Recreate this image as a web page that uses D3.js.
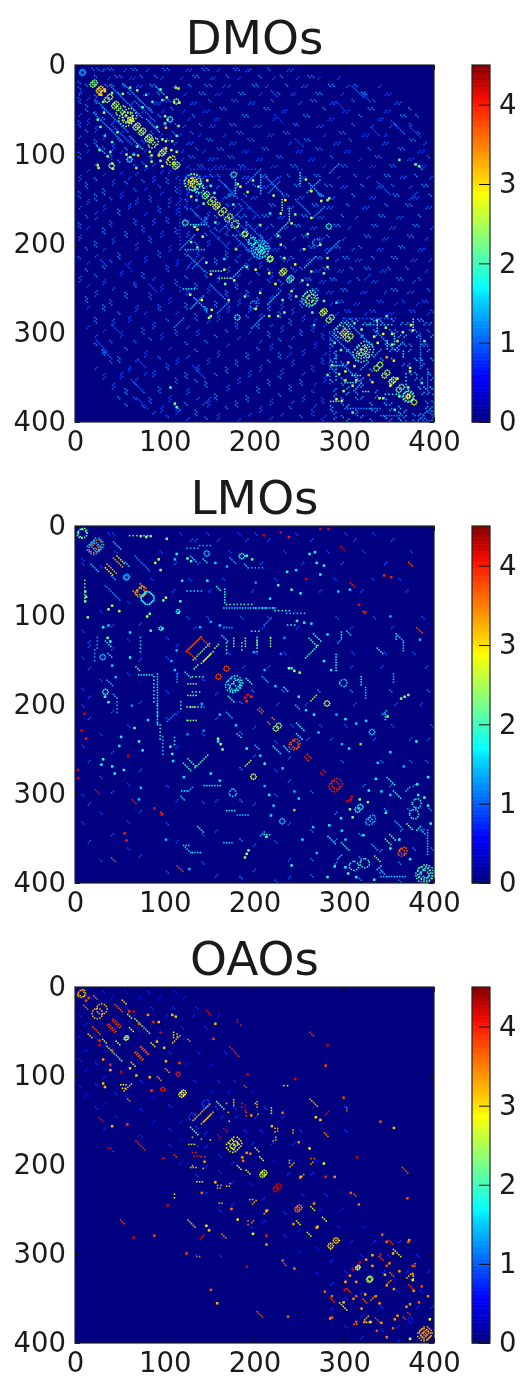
<!DOCTYPE html>
<html><head><meta charset="utf-8">
<script src="https://cdn.jsdelivr.net/npm/d3@7"></script>
<style>html,body{margin:0;padding:0;background:#fff;overflow:hidden}svg{display:block}text{font-family:"DejaVu Sans",sans-serif;fill:#1a1a1a}</style>
</head><body><div id="c"></div><script>
// every list holds the upper triangle of a symmetric matrix
const titles=["DMOs","LMOs","OAOs"];
const axisTicks=[0,100,200,300,400];
const barTicks=[0,1,2,3,4];
const vmax=4.5;
const jetStops=[0,.11,.125,.35,.375,.64,.66,.89,.91,1];
const jetColors=["#000080","#0000f1","#0000ff","#00dcff","#00ffff","#ffff00","#ffe600","#ff1a00","#f10800","#800000"];

// diagonal beads and clusters [cx,cy,r,v]
const dmoRings=[[8,7,3,1.3],[21,19,3,2.3],[28,26,3,3],[38,35,3,2.6],[45,43,3,2.5],[52,49,4,2.4],[60,56,8,2.4],[60,56,4,2.6],[62,60,2,2.8],[69,67,3,2.6],[75,73,3,2.5],[82,80,3,2.5],[88,85,4,2.5],[98,96,3,2.6],[107,105,4,2.7],[113,111,3,2.4],[131,130,9,2.2],[131,130,5,3],[131,130,2,2.6],[138,137,5,2],[146,144,3,2.2],[153,150,3,2.5],[158,156,3,2.7],[165,162,3,2.6],[172,169,3,2.6],[178,177,4,2.4],[189,188,3,2.5],[197,196,4,1.8],[207,205,9,1.6],[207,205,5,1.8],[207,205,2,1.8],[217,216,3,2.4],[232,230,3,2.6],[240,238,3,2],[262,260,8,2],[262,260,4,2.4],[262,260,1,2.2],[277,275,3,2.6],[285,282,3,2.4],[298,295,7,2],[300,298,3,3],[306,303,3,2.5],[323,318,9,2.1],[323,318,5,2.4],[323,318,2,2.4],[339,335,3,2.5],[347,344,3,2.5],[354,352,3,2.5],[363,360,3,2.2],[371,370,6,2.1],[371,370,2,2.8],[377,377,3,2.6],[394,392,6,1.2],[112,40,3,2.4],[105,60,3,1.8],[176,122,3,2.1],[282,180,3,1.8],[268,198,4,1.4]];
const dmoDiag=[[38,22,26,1.3],[53,20,33,1.3],[66,40,24,1.1],[46,62,14,1.3],[90,24,10,1.5],[79,60,16,1.5],[160,128,22,1.2],[185,150,22,1],[212,125,20,1.3],[260,132,16,1.5],[245,150,18,1.2],[170,165,24,1],[176,190,24,1.2],[302,286,30,1.4],[335,298,22,1.4],[308,23,14,1],[318,30,12,1],[372,68,14,.9],[290,40,10,.9],[218,28,8,1],[336,130,16,1],[222,55,10,.8],[245,82,10,.9],[330,70,10,.9],[352,62,14,1],[380,110,8,1.4]];
const dmoAnti=[[190,132,18,1.3],[215,142,14,1.2],[258,142,16,1.5],[283,120,12,1.3],[224,188,16,1.6],[265,170,14,1.3],[280,210,16,1.4],[255,226,14,1.6],[332,326,10,1.4],[356,318,10,1.5],[160,186,12,1],[125,225,10,1],[150,118,8,.9],[168,148,10,1.2],[120,180,8,1],[372,150,10,1],[322,240,8,.9]];
const dmoHoriz=[[128,116,74,.9],[300,283,60,1],[175,190,24,1.3],[150,104,12,1.1],[248,116,8,1],[320,290,34,1.6],[345,368,16,1.8]];
const dmoVert=[[124,122,40,.7],[298,283,25,1],[178,128,18,1.7],[206,122,24,1.5],[230,150,14,2.2],[238,160,14,2.2],[250,120,14,1.7],[336,288,12,1.8],[355,300,14,1.8],[376,284,14,2.2],[384,300,40,1.2],[392,340,26,1.2],[365,320,8,2],[347,308,10,2]];
const dmoBright=[[111,24,2.6],[114,25,2.4],[109,40,2.5],[115,41,2.4],[101,35,2.5],[99,56,2.4],[102,60,2.5],[114,67,2.5],[112,78,2.1],[94,26,2.1],[96,38,2],[100,69,3.2],[112,96,2.6],[106,94,2.4],[96,82,2.4],[107,84,2.3],[68,27,2.2],[78,32,2],[60,24,2.1],[52,31,2.5],[74,46,2.1],[85,40,2],[100,92,3],[68,90,2.2],[84,100,2.5],[64,99,2],[30,40,2.2],[26,32,3.2],[32,28,3.1],[180,132,2.5],[183,135,2.8],[197,128,2.2],[220,145,2.4],[228,165,2.6],[233,150,2.9],[240,176,2.6],[244,166,2.2],[256,127,2.6],[262,140,2.8],[273,151,2.6],[280,150,2.4],[258,188,2.2],[262,170,2.5],[272,200,2.5],[254,205,2.6],[244,222,2.8],[232,215,2.7],[262,230,2.2],[252,240,2.4],[276,232,2.2],[258,245,2.1],[191,141,2.6],[203,135,2.1],[154,142,2],[146,128,2.7],[205,178,2.7],[175,155,1.9],[228,200,2.5],[225,190,2.2],[216,165,1.6],[150,134,1.8],[280,215,2.5],[280,225,2.4],[346,280,2.1],[352,300,2.6],[373,290,2.7],[375,296,2.6],[335,285,2.2],[346,326,3.3],[352,312,2.6],[354,330,3],[336,310,2.6],[345,293,2.4],[372,342,2.4],[342,300,2.8],[332,303,2.7],[358,308,2.5],[370,360,2.4],[358,350,2.8],[388,308,2.1],[385,355,1.8],[372,338,2.6],[364,298,2.5],[318,295,2.2],[310,288,2],[378,110,2.2],[382,112,2.1],[360,105,2],[282,148,2.4],[276,263,2],[290,265,1.6]];
// faint clumps: each row [row,v,columns...]; even rows run down-right, odd rows up-right
const dmoSpeck=[
[3,1.1,18,24,36,40,62,66,97,102,141,146,176,180,214],
[6,1,29,31,54,79,123,127,158,190,193,236,240],
[11,1.2,21,44,49,72,88,131,135,168,204,228,259,263],
[15,.9,36,60,64,95,117,150,153,181,220,246,270,292],
[21,1.2,33,40,52,83,87,126,144,149,197,201,234,282,286,311],
[24,1,68,72,109,164,170,212,252,256,302,338],
[30,1.2,47,58,63,91,138,142,182,186,225,268,272,319,322],
[33,.9,76,80,121,156,160,205,240,243,296,345,349],
[38,1.1,54,70,99,103,148,174,178,218,262,266,308,331],
[43,1,62,88,92,128,132,193,197,249,284,288,356,360],
[47,1.2,82,106,161,165,210,214,276,326,330,371],
[52,.9,74,96,119,142,146,230,233,298,302,344,348],
[55,1.2,92,130,186,190,254,258,316,362,366,379],
[61,.9,82,104,125,155,158,220,281,285,337,340],
[65,1.1,98,111,138,172,176,243,246,308,355,372],
[69,1,88,120,149,153,199,204,269,273,329,350],
[74,1.1,84,108,128,180,184,232,236,294,298,364,381],
[79,.9,94,115,137,165,214,218,276,320,324,344],
[82,1.1,102,146,150,192,196,255,259,305,372,376],
[88,1,110,124,128,172,176,238,288,292,342,346,388],
[92,1.1,98,134,158,162,208,212,268,272,326,360,364],
[97,.9,112,118,142,186,190,246,250,300,304,382,386],
[101,1.1,126,130,170,174,224,228,284,334,338,392],
[106,.9,118,148,152,202,206,260,264,316,370,374],
[111,1.1,136,140,182,186,240,244,296,300,350,354],
[114,.9,124,160,164,218,222,276,328,332,384,388],
[122,1.2,150,158,172,206,211,236,266,270,310,344,348,378],
[126,1,136,142,186,190,226,250,254,292,325,362,366,395],
[133,1.2,166,178,198,244,248,278,283,318,352,386,390],
[137,1,144,157,208,212,262,296,300,336,340,372],
[144,1.2,170,174,188,230,235,270,274,308,354,358,394],
[149,1,164,196,200,248,252,286,328,332,376,380],
[155,1.2,168,182,216,220,264,268,302,345,368,372],
[160,1,176,192,236,240,280,284,320,324,390,394],
[167,1.2,180,188,208,212,252,256,296,338,342,382],
[171,1,184,198,226,230,270,274,312,358,362],
[178,1.2,192,204,218,244,248,288,292,330,334,376,380],
[183,1,200,212,234,262,266,304,350,354,396],
[190,1.2,206,222,226,252,256,280,322,326,370,374],
[195,1,204,216,242,270,274,298,342,346,390],
[202,1.2,214,232,260,264,288,292,316,360,364],
[207,1,220,224,250,278,282,308,336,340,382,386],
[214,1.2,228,240,268,272,298,302,330,352,356],
[219,1,232,236,258,290,312,316,374,378,394],
[226,1.2,240,250,276,280,306,348,322,326,368],
[231,1,244,266,270,292,296,340,344,390],
[238,1.2,256,260,284,288,314,358,362,382],
[243,1,250,272,276,304,330,334,376],
[250,1.2,264,268,296,300,352,356,392],
[255,1,280,284,318,322,344,370,374],
[263,1,292,296,336,340,364,386,390],
[268,.9,284,310,314,356,380],
[274,1,300,304,328,332,372,376,396],
[279,.9,290,322,348,352,392],
[284,1.4,306,312,330,338,352,381,385],
[290,1.3,320,326,340,362,368,388,394],
[296,1.3,332,350,356,372,378,392],
[304,1.4,318,333,360,366,380,396],
[312,1.3,345,366,372,386,390],
[320,1.4,350,358,371,392],
[328,1.4,340,352,378,384,396],
[336,1.3,364,370,386],
[344,1.4,372,378,393],
[352,1.3,378,384,396],
[360,1.5,368,382,388,395],
[368,1.4,386,392,398],
[376,1.3,390,397],
[384,1.4,390,395]
];

const lmoRings=[[8,7,5,2.2],[24,20,5,3.6],[24,20,7,1.5],[57,56,3,1.4],[74,72,5,3.3],[80,80,7,1.7],[114,95,2,1.8],[146,30,3,1.5],[168,159,3,3.8],[178,175,8,1.7],[180,175,4,1.9],[226,223,3,2.4],[245,243,5,3.7],[291,288,6,4],[317,314,3,1.8],[330,327,4,1.5],[380,310,5,1.8],[298,175,4,1.6],[330,230,3,1.5],[280,198,3,2.7],[390,388,9,2.1],[390,388,5,1.9],[390,388,1,4.2],[365,363,4,3.7],[377,322,5,1.9],[185,33,3,1.8]];
const lmoDiag=[[42,35,12,3.3],[46,33,10,2.9],[42,17,10,1.5],[66,33,17,1.2],[72,64,5,3.3],[260,125,10,2],[265,120,9,1.8],[157,67,6,1.9],[172,35,8,1.4],[188,42,6,1.5],[139,124,12,3.8],[163,122,8,1.6],[205,203,6,3.7],[219,214,4,3.5],[258,255,6,3.9],[276,273,4,4],[295,22,6,4.1],[371,40,6,3.7],[306,63,5,4],[380,113,8,3.8],[336,136,8,1.8],[354,296,10,1.8],[347,281,10,1.7],[369,333,8,2.2],[320,95,4,3.7],[232,180,6,1.8],[245,200,6,1.5],[357,120,10,1.5],[345,350,8,2.1],[302,117,6,1.5],[128,33,7,1.6],[142,36,5,1.6],[40,55,6,1.5],[208,168,8,1.4],[190,170,8,1.8],[246,220,10,1.7],[246,232,8,1.8],[356,330,8,1.4],[385,340,6,1.5]];
const lmoAnti=[[124,139,18,3.8],[131,149,9,2.3],[143,150,12,2.7],[155,136,5,2.3],[256,147,16,2],[262,195,8,2.5],[210,110,10,1.2],[292,130,6,1.4],[342,210,6,1.5],[368,296,6,1.5],[380,340,6,1.7]];
const lmoHoriz=[[168,87,32,1.9],[200,91,22,1.8],[222,94,20,1.9],[124,24,14,1.4],[138,21,15,1.4],[124,72,18,1.6],[196,46,16,1.4],[235,97,22,1.5],[60,10,24,2.2],[130,168,14,2.1],[130,185,12,2],[128,202,16,2.1],[124,217,8,1.9],[196,117,10,1.8],[236,110,12,1.7]];
const lmoVert=[[176,125,10,2.3],[189,125,10,2.4],[202,124,12,2.3],[217,125,12,2.4],[290,143,19,1.7],[318,168,12,1.7],[323,180,14,1.5],[357,120,8,1.6],[365,130,10,1.6],[354,165,10,1.5],[91,165,60,1.6],[166,70,16,1.8],[113,165,12,1.4],[296,118,8,1.7],[392,340,30,1.5],[345,210,8,1.8]];
const lmoBright=[[72,10,2.2],[78,11,2.3],[83,10,2.1],[101,13,2.3],[92,36,2.4],[94,48,2.4],[100,79,2.5],[116,83,2],[114,96,1.8],[88,40,2.5],[97,82,2],[209,9,4.2],[228,6,4.2],[237,11,4],[272,2,4.2],[281,2,4.2],[256,58,4.2],[343,54,4],[351,56,4],[315,87,4.1],[322,95,4.1],[191,188,4.1],[195,190,3.9],[302,307,4.2],[306,305,4.2],[245,48,1.6],[235,50,1.7],[225,65,2],[240,70,1.9],[250,74,1.8],[260,30,1.9],[266,28,1.7],[268,40,1.8],[276,43,1.7],[272,53,1.8],[237,158,2.4],[243,161,2.5],[249,163,2.3],[366,190,2.4],[370,188,2.3],[362,192,2.3],[305,316,2.3],[308,325,2.3],[347,212,2.2],[323,217,1.6],[379,240,1.8],[317,243,3.3],[388,303,2],[392,312,1.8],[381,300,1.7],[372,372,1.7],[360,350,1.8],[305,70,1.5],[292,72,1.5],[350,100,1.4],[383,126,1.4],[196,36,2],[190,32,1.9],[112,30,1.7],[124,35,2.1],[128,38,1.9],[146,60,1.7],[155,40,1.5],[118,60,1.6],[110,36,1.5],[168,44,1.4],[200,62,1.2],[216,80,1.6],[246,105,1.9],[254,107,1.9],[262,108,1.6],[232,124,1.2],[228,142,1.2],[240,158,1.7],[276,150,1.7],[284,160,1.6],[248,190,1.9],[256,205,1.6],[265,210,1.9],[270,230,1.5],[296,243,1.4],[304,248,1.6],[336,264,1.5],[350,252,1.6],[365,268,1.4],[380,288,1.8],[340,296,1.6],[326,295,1.7],[345,320,1.8],[350,300,1.5],[392,280,1.8],[395,332,1.9],[300,215,1.7],[312,220,1.5],[290,210,1.4],[210,160,1.4],[222,178,1.5],[198,140,1.4],[150,106,1.3],[160,110,1.5],[138,112,1.4],[282,334,1.7],[280,120,1.6]];
const lmoSpeck=[
[7,.9,36,41,116,146,181,200,245,300,331],[16,1,128,133,158,190,214,262,310,352],[27,.9,44,94,171,232,280,320,373],[42,1,110,136,206,252,296,344],[58,.9,84,126,164,222,288,330,360],[73,1,108,148,196,272,318,368],[101,1,124,146,184,214,290,332,386],[114,.9,132,164,208,246,306,352],[141,1,170,200,232,308,344,376],[158,1,186,214,306,340,390],[183,1.2,196,230,270,306,350,392],[200,1,224,256,310,356,384],[222,1,240,272,300,352,396],[239,1,258,284,332,372,392],[262,1.1,296,340,372,390],[291,1.2,320,350,376],[316,1.3,344,370,394],[341,1.3,362,386],[360,1.2,376,396]
];

const oaoRings=[[7,6,4,3.2],[29,24,6,3.2],[57,56,2,2.5],[114,97,2,4],[210,208,3,2.7],[226,223,3,4.2],[249,247,3,3.6],[178,175,7,2.9],[178,175,3,2.7],[315,314,2,2.7],[328,327,3,2.5],[390,388,7,3.2],[390,388,3,3.4],[120,118,3,2.9],[290,284,3,3],[145,130,4,.9],[373,373,3,.7]];
const oaoDiag=[[42,35,10,3.9],[41,37,9,3.8],[44,19,9,3.7],[66,35,17,2.4],[73,66,10,3.7],[72,67,9,3.8],[100,91,5,3.4],[146,26,6,4.1],[172,67,12,4],[261,50,6,3.9],[364,202,7,3.7],[261,125,10,3.2],[277,163,5,3.4],[165,158,5,4.2],[157,128,10,2.2],[349,284,6,3.9],[354,294,10,2.9],[371,334,6,3.9],[365,370,4,3.8],[20,9,6,3.6],[30,58,6,2.7],[350,320,6,3.6],[310,232,4,3.7],[188,110,4,3.8],[205,190,6,2.9],[200,180,5,3],[262,246,5,2.8],[275,258,5,2.8],[338,302,5,3.8],[60,45,6,2.7],[84,62,5,2.7],[52,14,5,3],[125,58,4,3.4]];
const oaoAnti=[[131,149,9,3.2],[143,150,12,3.2],[278,143,6,4.1],[250,214,5,3.3],[347,333,5,3.4],[239,201,5,3.2],[369,326,5,3.2],[262,198,4,3.4],[108,62,6,3],[112,58,5,3.2]];
const oaoHoriz=[[262,192,8,3.5],[290,284,6,3.2],[232,110,8,2.8],[130,168,4,3.2],[140,170,4,3.2],[150,171,3,3],[130,185,6,4],[140,190,6,3.8],[130,200,4,3.2],[142,203,3,3.2],[158,222,6,3.2],[172,220,4,3.4]];
const oaoVert=[[180,36,4,4.1],[184,42,3,4],[176,126,8,3.1],[189,132,8,4.1],[202,128,8,3.2],[218,135,7,2.6],[302,135,6,3.6],[225,158,5,3.4],[223,168,5,3.2],[109,50,9,2.8],[113,52,6,3],[378,310,5,3.5],[376,321,8,2.9],[242,160,5,3.2],[238,194,5,3.2]];
const oaoBright=[[14,11,3.8],[64,26,4.2],[59,26,3.9],[92,38,3.2],[94,50,4.2],[107,30,3.2],[111,32,3.2],[115,84,3.8],[98,67,3.2],[100,82,3.2],[191,97,4.2],[244,102,4.2],[280,64,4.2],[278,87,3.8],[298,123,3.8],[339,150,3.7],[354,157,3.2],[313,190,4.2],[306,230,3.7],[315,243,3.6],[369,236,3.7],[267,145,3],[272,148,3.1],[260,180,3],[276,197,2.7],[278,212,4],[250,212,3.2],[194,186,3.6],[185,190,3.4],[265,242,3.4],[269,268,3.2],[371,283,3.4],[341,277,3.7],[339,299,4.2],[349,309,3.5],[323,305,3.4],[330,300,3.2],[346,334,3.5],[354,338,3.4],[346,312,3.8],[375,312,3.8],[375,321,3.5],[375,328,3],[353,298,3.2],[370,285,3.7],[346,285,3.6],[368,358,3.4],[330,312,3.4],[316,308,4.2],[155,40,3.2],[153,57,3.8],[90,60,3.2],[86,38,4],[80,30,3.4],[70,40,3.8],[218,155,3.2],[230,140,3.6],[195,143,3.4],[248,173,3.5],[288,212,3.4],[344,322,3.2],[360,318,3.4],[385,335,3.8],[392,346,3.5],[382,353,3.7],[394,372,2.8],[355,372,3.4],[340,376,3.4]];
const oaoSpeck=[
[4,.7,30,55,80,110],[12,.7,40,70,92,120],[22,.8,56,84,108,134],[33,.7,64,100,130,158],[44,.8,76,118,144],[58,.7,90,120,150],[72,.8,104,136,166],[88,.7,122,150],[104,.8,132,158,176],[118,.7,150,170,196],[134,.9,142,156,176,210,300],[146,.8,162,178,200,230],[160,.8,188,206,250,300],[176,.8,196,218,242],[194,.7,220,240,268],[210,.8,236,262],[232,.8,252,278],[250,.7,272,296],[268,.7,292,320],[286,.8,306,332,360],[300,.8,318,348,380],[320,.8,342,368,392],[340,.8,358,384],[360,.8,380,396]
];

const panels=[
 {rings:dmoRings,diag:dmoDiag,anti:dmoAnti,horiz:dmoHoriz,vert:dmoVert,bright:dmoBright,speck:dmoSpeck,top:65,bottom:422,tx:37},
 {rings:lmoRings,diag:lmoDiag,anti:lmoAnti,horiz:lmoHoriz,vert:lmoVert,bright:lmoBright,speck:lmoSpeck,top:526,bottom:883,tx:497},
 {rings:oaoRings,diag:oaoDiag,anti:oaoAnti,horiz:oaoHoriz,vert:oaoVert,bright:oaoBright,speck:oaoSpeck,top:987,bottom:1343,tx:958}
];

const color=d3.scaleLinear().domain(jetStops.map(d=>d*vmax)).range(jetColors).interpolate(d3.interpolateRgb).clamp(true);
const svg=d3.select("#c").append("svg").attr("width",524).attr("height",1383);
const defs=svg.append("defs");
defs.append("filter").attr("id","soft").attr("filterUnits","userSpaceOnUse").attr("x",0).attr("y",0).attr("width",524).attr("height",1383)
  .attr("color-interpolation-filters","sRGB").append("feGaussianBlur").attr("stdDeviation",.62);
defs.append("filter").attr("id","softText").attr("filterUnits","userSpaceOnUse").attr("x",0).attr("y",0).attr("width",524).attr("height",1383)
  .attr("color-interpolation-filters","sRGB").append("feGaussianBlur").attr("stdDeviation",.3);
const left=75,right=434,barL=472,barR=490;

function cellsOf(p){
  const m=new Map();
  const put=(x,y,v)=>{x=Math.round(x);y=Math.round(y);if(x<0||y<0||x>=400||y>=400)return;
    for(const [a,b] of [[x,y],[y,x]]){const k=a+","+b;if(!m.has(k)||m.get(k).v<v)m.set(k,{x:a,y:b,v});}};
  p.rings.forEach(([cx,cy,r,v])=>{const n=r<1.5?1:Math.round(r*1.5+3);for(let i=0;i<n;i++){const a=i/n*2*Math.PI;put(cx+r*Math.cos(a),cy+r*Math.sin(a),v);}});
  p.diag.forEach(([x,y,l,v])=>{for(let i=0;i<l;i+=2)put(x+i,y+i,v);});
  p.anti.forEach(([x,y,l,v])=>{for(let i=0;i<l;i+=2)put(x+i,y-i,v);});
  p.horiz.forEach(([x,y,l,v])=>{for(let i=0;i<l;i+=4)put(x+i,y,v);});
  p.vert.forEach(([x,y,l,v])=>{for(let i=0;i<l;i+=3)put(x,y+i,v);});
  p.bright.forEach(([x,y,v])=>{put(x,y,v);put(x+1,y,v);put(x,y+1,v);put(x+1,y+1,v);});
  p.speck.forEach(([y,v,...xs],r)=>{const d=r%2?-1:1;xs.forEach(x=>{put(x,y,v);put(x+2,y+2*d,v);});});
  return [...m.values()];
}

panels.forEach((p,i)=>{
  const x=d3.scaleLinear().domain([0,400]).range([left,right]);
  const y=d3.scaleLinear().domain([0,400]).range([p.top,p.bottom]);
  const g=svg.append("g").attr("filter","url(#softText)");
  const clipId="clip"+i;
  defs.append("clipPath").attr("id",clipId).append("rect").attr("x",left).attr("y",p.top).attr("width",right-left).attr("height",p.bottom-p.top);
  const heat=g.append("g").attr("clip-path",`url(#${clipId})`).append("g").attr("filter","url(#soft)");
  heat.append("rect").attr("x",left-4).attr("y",p.top-4).attr("width",right-left+8).attr("height",p.bottom-p.top+8).attr("fill",color(0));
  const s=1.7*(right-left)/400;
  heat.selectAll("rect.c").data(cellsOf(p)).join("rect").attr("class","c")
    .attr("x",d=>x(d.x)).attr("y",d=>y(d.y)).attr("width",s).attr("height",s).attr("fill",d=>color(d.v));
  const style=a=>{a.selectAll("path").remove();a.selectAll("line").attr("stroke","#111").attr("stroke-width",1);a.selectAll("text").attr("font-size",27.5).attr("fill","#1a1a1a");};
  g.append("g").attr("transform",`translate(0,${p.bottom})`).call(d3.axisBottom(x).tickValues(axisTicks).tickFormat(d3.format("d")).tickSize(-5).tickPadding(9)).call(style);
  g.append("g").attr("transform",`translate(0,${p.top})`).call(d3.axisTop(x).tickValues(axisTicks).tickFormat("").tickSize(-5)).call(style);
  g.append("g").attr("transform",`translate(${left},0)`).call(d3.axisLeft(y).tickValues(axisTicks).tickFormat(d3.format("d")).tickSize(-5).tickPadding(9)).call(style);
  g.append("g").attr("transform",`translate(${right},0)`).call(d3.axisRight(y).tickValues(axisTicks).tickFormat("").tickSize(-5)).call(style);
  g.append("rect").attr("x",left).attr("y",p.top).attr("width",right-left).attr("height",p.bottom-p.top).attr("fill","none").attr("stroke","#222").attr("stroke-width",1.2);
  g.append("text").attr("x",(left+right)/2).attr("y",p.tx).attr("dy",".36em").attr("text-anchor","middle").attr("font-size",47).text(titles[i]);
  // colour bar
  const b=d3.scaleLinear().domain([0,vmax]).range([p.bottom,p.top]);
  const levels=d3.range(0,vmax,vmax/256);
  g.append("g").selectAll("rect").data(levels).join("rect").attr("x",barL).attr("width",barR-barL)
    .attr("y",d=>b(d+vmax/256)).attr("height",(p.bottom-p.top)/256+.6).attr("fill",d=>color(d));
  g.append("rect").attr("x",barL).attr("y",p.top).attr("width",barR-barL).attr("height",p.bottom-p.top).attr("fill","none").attr("stroke","#222").attr("stroke-width",1.2);
  g.append("g").attr("transform",`translate(${barR},0)`).call(d3.axisRight(b).tickValues(barTicks).tickFormat(d3.format("d")).tickSize(-11).tickPadding(9)).call(style);
});
</script></body></html>
